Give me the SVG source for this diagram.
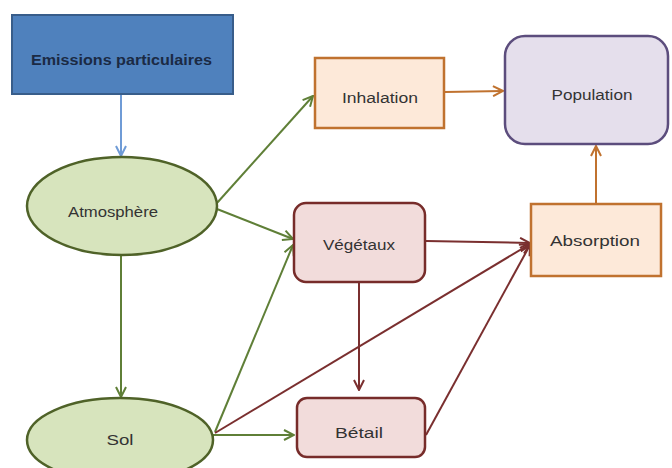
<svg xmlns="http://www.w3.org/2000/svg" width="672" height="468" viewBox="0 0 672 468">
<defs>
<style>
.t{font-family:"Liberation Sans",Arial,sans-serif;font-size:14px;fill:#333;text-anchor:middle}
.b{font-weight:bold;fill:#1b2a44}
.g{stroke:#5f7f37;stroke-width:2;fill:none}
.r{stroke:#7a2f2f;stroke-width:2;fill:none}
.o{stroke:#c0722f;stroke-width:2;fill:none}
.bl{stroke:#6f9bd6;stroke-width:2;fill:none}
</style>
<marker id="mg" viewBox="0 0 12 12" refX="11" refY="6" markerWidth="12" markerHeight="12" markerUnits="userSpaceOnUse" orient="auto"><path d="M1,1 L11,6 L1,11" fill="none" stroke="#5f7f37" stroke-width="2"/></marker>
<marker id="mr" viewBox="0 0 12 12" refX="11" refY="6" markerWidth="12" markerHeight="12" markerUnits="userSpaceOnUse" orient="auto"><path d="M1,1 L11,6 L1,11" fill="none" stroke="#7a2f2f" stroke-width="2"/></marker>
<marker id="mo" viewBox="0 0 12 12" refX="11" refY="6" markerWidth="12" markerHeight="12" markerUnits="userSpaceOnUse" orient="auto"><path d="M1,1 L11,6 L1,11" fill="none" stroke="#c0722f" stroke-width="2"/></marker>
<marker id="mb" viewBox="0 0 12 12" refX="11" refY="6" markerWidth="12" markerHeight="12" markerUnits="userSpaceOnUse" orient="auto"><path d="M1,1 L11,6 L1,11" fill="none" stroke="#6f9bd6" stroke-width="2"/></marker>
</defs>
<rect width="672" height="468" fill="#fff"/>
<g id="connectors">
<line class="bl" x1="121" y1="95" x2="121" y2="156" marker-end="url(#mb)"/>
<line class="g" x1="121" y1="256" x2="121" y2="397" marker-end="url(#mg)"/>
<line class="g" x1="217" y1="203" x2="313" y2="96" marker-end="url(#mg)"/>
<line class="g" x1="217" y1="209" x2="293" y2="239" marker-end="url(#mg)"/>
<line class="g" x1="215" y1="432" x2="293" y2="245" marker-end="url(#mg)"/>
<line class="g" x1="213" y1="435" x2="294" y2="435" marker-end="url(#mg)"/>
<line class="r" x1="426" y1="241" x2="530" y2="243" marker-end="url(#mr)"/>
<line class="r" x1="359" y1="283" x2="359" y2="390" marker-end="url(#mr)"/>
<line class="r" x1="215" y1="433" x2="530" y2="244" marker-end="url(#mr)"/>
<line class="r" x1="426" y1="435" x2="530" y2="245" marker-end="url(#mr)"/>
<line class="o" x1="445" y1="92" x2="503" y2="91" marker-end="url(#mo)"/>
<line class="o" x1="596" y1="203" x2="596" y2="146" marker-end="url(#mo)"/>
</g>
<g id="emissions">
<rect x="12" y="15" width="221" height="79" fill="#4f81bd" stroke="#385d8a" stroke-width="2"/>
<text class="t b" x="121.5" y="65" textLength="181" lengthAdjust="spacingAndGlyphs">Emissions particulaires</text>
</g>
<g id="atmosphere">
<ellipse cx="122" cy="206" rx="95" ry="49" fill="#d7e4bd" stroke="#4f6228" stroke-width="2.5"/>
<text class="t" x="113" y="217" textLength="90" lengthAdjust="spacingAndGlyphs">Atmosphère</text>
</g>
<g id="sol">
<ellipse cx="120" cy="440" rx="93" ry="42" fill="#d7e4bd" stroke="#4f6228" stroke-width="2.5"/>
<text class="t" x="120" y="445" textLength="27" lengthAdjust="spacingAndGlyphs">Sol</text>
</g>
<g id="inhalation">
<rect x="315" y="58" width="129" height="70" fill="#fde9d9" stroke="#c0722f" stroke-width="2.5"/>
<text class="t" x="380" y="103" textLength="76" lengthAdjust="spacingAndGlyphs">Inhalation</text>
</g>
<g id="population">
<rect x="505" y="36" width="163" height="108" rx="20" fill="#e5dfec" stroke="#5c4d7d" stroke-width="2.5"/>
<text class="t" x="592" y="100" textLength="81" lengthAdjust="spacingAndGlyphs">Population</text>
</g>
<g id="vegetaux">
<rect x="294" y="203" width="131" height="79" rx="12" fill="#f2dcdb" stroke="#772c2a" stroke-width="2.5"/>
<text class="t" x="359" y="250" textLength="72" lengthAdjust="spacingAndGlyphs">Végétaux</text>
</g>
<g id="absorption">
<rect x="531" y="204" width="130" height="72" fill="#fde9d9" stroke="#c0722f" stroke-width="2.5"/>
<text class="t" x="595" y="246" textLength="90" lengthAdjust="spacingAndGlyphs">Absorption</text>
</g>
<g id="betail">
<rect x="297" y="398" width="128" height="59" rx="10" fill="#f2dcdb" stroke="#772c2a" stroke-width="2.5"/>
<text class="t" x="359" y="438" textLength="48" lengthAdjust="spacingAndGlyphs">Bétail</text>
</g>
</svg>
